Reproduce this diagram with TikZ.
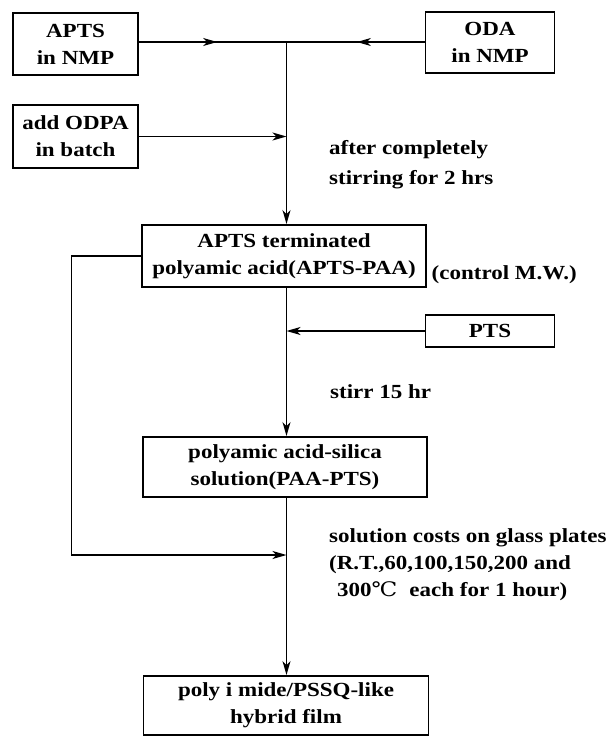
\documentclass[tikz,border=0pt]{standalone}
\usepackage{fontspec}
\setmainfont{Liberation Serif}[FakeStretch=1.15]
\newfontfamily\symf{DejaVu Serif}[FakeStretch=1.15]
\usetikzlibrary{arrows.meta,decorations.markings}
\begin{document}
\begin{tikzpicture}[x=1pt,y=-1pt,
  font=\fontsize{20}{27}\selectfont\bfseries,
  box/.style={draw,line width=1.9pt,align=center,inner sep=0pt},
  conn/.style={line width=1.4pt},
  tip/.style={-{Stealth[length=14pt,width=8pt,inset=4pt]}},
  arr/.style={conn,tip},
  midarr/.style={conn,postaction={decorate},decoration={markings,mark=at position #1 with {\arrow{Stealth[length=14pt,width=8pt,inset=4pt]}}}},
  lbl/.style={align=left,anchor=west,inner sep=0pt}]
\useasboundingbox (0,0) rectangle (611,736);
% boxes
\node[box,minimum width=125pt,minimum height=62pt] (apts) at (75.5,44) {APTS\\in NMP};
\node[box,minimum width=129pt,minimum height=61pt] (oda) at (490,42.5) {ODA\\in NMP};
\node[box,minimum width=125pt,minimum height=63pt] (odpa) at (75.5,136.5) {add ODPA\\in batch};
\node[box,minimum width=284pt,minimum height=62pt] (paa) at (284,256) {APTS terminated\\polyamic acid(APTS-PAA)};
\node[lbl] (mw) at (431.5,275) {(control M.W.)};
\node[box,minimum width=129pt,minimum height=32pt] (pts) at (490,331) {PTS};
\node[box,minimum width=284pt,minimum height=60pt] (sol) at (285,467) {polyamic acid-silica\\solution(PAA-PTS)};
\node[box,minimum width=285pt,minimum height=59pt] (film) at (286,705.5) {poly i mide/PSSQ-like\\hybrid film};
% labels
\node[lbl,font=\fontsize{20}{30}\selectfont\bfseries] (t1) at (329,165) {after completely\\stirring for 2 hrs};
\node[lbl] (t2) at (330,392) {stirr 15 hr};
\node[lbl] (t3) at (329,565) {solution costs on glass plates\\(R.T.,60,100,150,200 and\\\hspace{8pt}300{\symf\mdseries ℃}\hspace{12pt}each for 1 hour)};
% connectors
\coordinate (j) at (286.5,42);
\coordinate (b1) at (71.5,555);
\coordinate (b2) at (286.5,555);
\draw[midarr=0.53] (apts.east |- j) -- (j);
\draw[midarr=0.49] (oda.west |- j) -- (j);
\draw[arr] (j) -- (j |- paa.north);
\draw[arr] (odpa.east) -- (odpa.east -| j);
\draw[arr] (pts.west) -- (pts.west -| j);
\draw[arr] (j |- paa.south) -- (j |- sol.north);
\draw[arr] (j |- sol.south) -- (j |- film.north);
\draw[arr] (paa.west) -| (b1) -- (b2);
\end{tikzpicture}
\end{document}
